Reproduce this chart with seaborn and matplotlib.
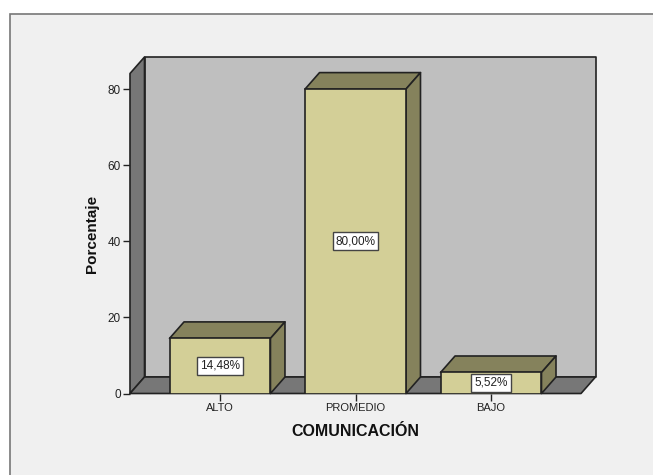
import numpy as np
import pandas as pd
import matplotlib
matplotlib.use("Agg")
import matplotlib.pyplot as plt
from matplotlib.patches import Polygon, Rectangle
import seaborn as sns

categories = ["ALTO", "PROMEDIO", "BAJO"]
values = [14.48, 80.00, 5.52]
labels = ["14,48%", "80,00%", "5,52%"]
yticks = [0, 20, 40, 60, 80]

W, H = 653, 475
FRONT = "#d3cf97"
DARK = "#85825c"
WALL = "#bfbfbf"
SIDE = "#777777"
BG = "#f0f0f0"
EDGE = "#222222"

sns.set_style("white")
plt.rcParams["font.family"] = ["Liberation Sans", "DejaVu Sans"]

fig = plt.figure(figsize=(W / 100, H / 100), dpi=100, facecolor="white")
ax = fig.add_axes([130 / W, 1 - 393.5 / H, 451 / W, 320 / H])
ax.set_facecolor("none")

df = pd.DataFrame({"cat": categories, "val": values})
sns.barplot(data=df, x="cat", y="val", color=FRONT, saturation=1, width=0.745,
            edgecolor=EDGE, linewidth=1.2, ax=ax, zorder=5)

ax.set_xlim(-0.664, 2.664)
ax.set_ylim(0, 84.1)
ax.set_yticks(yticks)
xmin, xmax = ax.get_xlim()
ymin, ymax = ax.get_ylim()

# depth of the fake 3d box, in data units
dx = 14.5 / 451 * (xmax - xmin)
dy = 16.5 / 320 * (ymax - ymin)


def face(pts, color, z):
    ax.add_patch(Polygon(pts, closed=True, facecolor=color, edgecolor=EDGE,
                         linewidth=1.2, zorder=z, clip_on=False, joinstyle="round"))


# panel behind everything, runs off the right and bottom of the picture
fig.patches.append(Rectangle((9.5 / W, -10 / H), 660 / W, (462 + 10 - 0.5) / H, transform=fig.transFigure,
                             facecolor=BG, edgecolor="#777777", linewidth=1.2, zorder=-5))

# back wall, left wall, floor
face([(xmin + dx, ymin + dy), (xmax + dx, ymin + dy), (xmax + dx, ymax + dy), (xmin + dx, ymax + dy)], WALL, 1)
face([(xmin, ymin), (xmin + dx, ymin + dy), (xmin + dx, ymax + dy), (xmin, ymax)], SIDE, 2)
face([(xmin, ymin), (xmax, ymin), (xmax + dx, ymin + dy), (xmin + dx, ymin + dy)], SIDE, 2)

# top and side of each bar
for bar in ax.patches[:len(values)]:
    x0, x1 = bar.get_x(), bar.get_x() + bar.get_width()
    top = bar.get_height()
    face([(x0, top), (x1, top), (x1 + dx, top + dy), (x0 + dx, top + dy)], DARK, 4)
    face([(x1, 0), (x1 + dx, dy), (x1 + dx, top + dy), (x1, top)], DARK, 4)

# value boxes
for i, (v, lab) in enumerate(zip(values, labels)):
    ax.text(i, v / 2, lab, ha="center", va="center", fontsize=8.5, color="#222222", zorder=7,
            bbox=dict(boxstyle="square,pad=0.25", facecolor="white", edgecolor="#444444", linewidth=1))

sns.despine(ax=ax, left=True, bottom=True)
ax.tick_params(axis="both", which="major", length=5, width=1, color=EDGE,
               labelcolor="#222222", left=True, bottom=True, pad=1.5)
ax.tick_params(axis="x", labelsize=8)
ax.tick_params(axis="y", labelsize=8.5)
ax.set_xlabel("COMUNICACIÓN", fontsize=11.5, fontweight="bold", color="#111111", labelpad=8)
ax.set_ylabel("Porcentaje", fontsize=11, fontweight="bold", color="#111111", labelpad=6.5)

fig.savefig("out.png", dpi=100)
